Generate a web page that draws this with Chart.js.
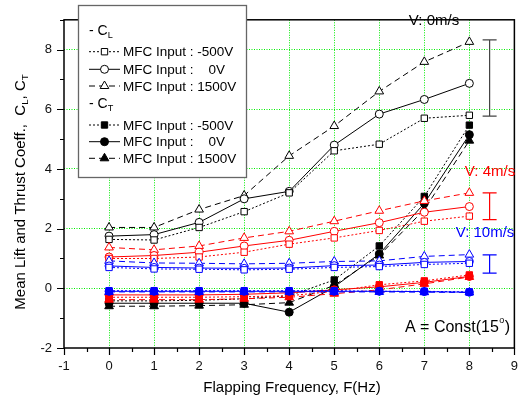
<!DOCTYPE html>
<html>
<head>
<meta charset="utf-8">
<script src="https://cdn.jsdelivr.net/npm/chart.js@4.4.1/dist/chart.umd.min.js"></script>
<style>body{margin:0;background:#fff}</style>
</head>
<body>
<canvas id="chart" width="529" height="404"></canvas>
<script>
var freq = [0, 1, 2, 3, 4, 5, 6, 7, 8];

// lift coefficient C_L (open markers)
var clV0_m500 = [1.64, 1.62, 2.04, 2.57, 3.2, 4.61, 4.83, 5.7, 5.8];
var clV0_0 = [1.75, 1.8, 2.21, 3.0, 3.25, 4.8, 5.84, 6.33, 6.87];
var clV0_1500 = [2.04, 2.04, 2.64, 3.11, 4.44, 5.44, 6.6, 7.59, 8.26];
var clV4_m500 = [1.0, 1.0, 1.05, 1.21, 1.48, 1.69, 1.94, 2.25, 2.42];
var clV4_0 = [1.05, 1.1, 1.21, 1.42, 1.61, 1.91, 2.2, 2.55, 2.74];
var clV4_1500 = [1.37, 1.29, 1.42, 1.69, 1.91, 2.25, 2.6, 2.93, 3.2];
var clV10_m500 = [0.7, 0.65, 0.64, 0.62, 0.64, 0.7, 0.73, 0.8, 0.84];
var clV10_0 = [0.75, 0.7, 0.68, 0.67, 0.68, 0.76, 0.78, 0.87, 0.9];
var clV10_1500 = [0.92, 0.85, 0.84, 0.82, 0.84, 0.9, 0.92, 1.07, 1.13];

// thrust coefficient C_T (filled markers)
var ctV0_m500 = [-0.42, -0.42, -0.4, -0.35, -0.25, 0.28, 1.42, 3.08, 5.47];
var ctV0_0 = [-0.5, -0.5, -0.5, -0.5, -0.8, 0.05, 1.15, 2.85, 5.15];
var ctV0_1500 = [-0.6, -0.6, -0.58, -0.55, -0.48, 0.1, 1.1, 2.64, 4.95];
var ctV4_m500 = [-0.3, -0.3, -0.3, -0.28, -0.25, -0.1, 0.12, 0.25, 0.45];
var ctV4_0 = [-0.22, -0.22, -0.22, -0.2, -0.15, -0.05, 0.05, 0.2, 0.4];
var ctV4_1500 = [-0.38, -0.38, -0.38, -0.35, -0.3, -0.18, -0.05, 0.15, 0.38];
var ctV10_m500 = [-0.08, -0.08, -0.08, -0.08, -0.08, -0.08, -0.1, -0.1, -0.12];
var ctV10_0 = [-0.1, -0.1, -0.1, -0.1, -0.1, -0.1, -0.1, -0.11, -0.13];
var ctV10_1500 = [-0.12, -0.12, -0.12, -0.12, -0.12, -0.12, -0.12, -0.13, -0.14];

var xTicks = [-1, 0, 1, 2, 3, 4, 5, 6, 7, 8, 9];
var yTicks = [-2, 0, 2, 4, 6, 8];

// spread bars and labels at the right, in data units
var speedLabels = ['V: 0m/s', 'V: 4m/s', 'V: 10m/s'];
var speedColors = ['#000', '#ff0000', '#0000ff'];
var spreadTop = [8.33, 3.2, 1.12];
var spreadBottom = [5.77, 2.3, 0.51];

var FONT = '"Liberation Sans", Arial, sans-serif';
var dashes = { rect: [2, 2], circle: [], triangle: [6, 4] };
var sizes = { rect: 4.5, circle: 4, triangle: 5 };

var series = [
  [ctV10_m500, 'rect', speedColors[2], true], [ctV10_0, 'circle', speedColors[2], true], [ctV10_1500, 'triangle', speedColors[2], true],
  [clV10_m500, 'rect', speedColors[2], false], [clV10_0, 'circle', speedColors[2], false], [clV10_1500, 'triangle', speedColors[2], false],
  [ctV4_m500, 'rect', speedColors[1], true], [ctV4_0, 'circle', speedColors[1], true], [ctV4_1500, 'triangle', speedColors[1], true],
  [clV4_m500, 'rect', speedColors[1], false], [clV4_0, 'circle', speedColors[1], false], [clV4_1500, 'triangle', speedColors[1], false],
  [ctV0_m500, 'rect', speedColors[0], true], [ctV0_0, 'circle', speedColors[0], true], [ctV0_1500, 'triangle', speedColors[0], true],
  [clV0_m500, 'rect', speedColors[0], false], [clV0_0, 'circle', speedColors[0], false], [clV0_1500, 'triangle', speedColors[0], false]
];

var datasets = series.map(function (s) {
  return {
    data: s[0].map(function (v, i) { return { x: freq[i], y: v }; }),
    borderColor: s[2],
    borderWidth: 1,
    borderDash: dashes[s[1]],
    pointStyle: s[1],
    pointRadius: sizes[s[1]],
    pointBorderWidth: 1,
    pointBorderColor: s[2],
    pointBackgroundColor: s[3] ? s[2] : '#fff',
    tension: 0,
    fill: false
  };
});

function marker(ctx, style, x, y, filled, color) {
  ctx.save();
  ctx.setLineDash([]);
  ctx.lineWidth = 1;
  ctx.strokeStyle = color;
  ctx.fillStyle = filled ? color : '#fff';
  ctx.beginPath();
  var r = sizes[style];
  if (style === 'rect') {
    var s = r * Math.SQRT1_2;
    ctx.rect(x - s, y - s, 2 * s, 2 * s);
  } else if (style === 'circle') {
    ctx.arc(x, y, r, 0, Math.PI * 2);
  } else {
    ctx.moveTo(x, y - r);
    ctx.lineTo(x + r * 0.866, y + r / 2);
    ctx.lineTo(x - r * 0.866, y + r / 2);
    ctx.closePath();
  }
  ctx.fill();
  ctx.stroke();
  ctx.restore();
}

// draws text pieces [text, isSub] left to right
function richText(ctx, parts, x, y, size, align) {
  var w = 0;
  parts.forEach(function (p) {
    ctx.font = (p[1] ? size * 0.65 : size) + 'px ' + FONT;
    w += ctx.measureText(p[0]).width;
  });
  var cx = align === 'center' ? x - w / 2 : x;
  parts.forEach(function (p) {
    ctx.font = (p[1] ? size * 0.65 : size) + 'px ' + FONT;
    ctx.fillText(p[0], cx, p[1] ? y + size * 0.3 : y);
    cx += ctx.measureText(p[0]).width;
  });
}

var decor = {
  id: 'decor',
  afterDraw: function (chart) {
    var ctx = chart.ctx, a = chart.chartArea;
    var xs = chart.scales.x, ys = chart.scales.y;
    ctx.save();
    ctx.strokeStyle = '#000';
    ctx.lineWidth = 1.5;
    ctx.strokeRect(a.left, a.top, a.right - a.left, a.bottom - a.top);
    ctx.lineWidth = 1.2;
    ctx.beginPath();
    for (var v = -1; v <= 9; v += 0.5) {
      var px = Math.round(xs.getPixelForValue(v)) + 0.5;
      ctx.moveTo(px, a.bottom);
      ctx.lineTo(px, a.bottom + (v % 1 === 0 ? 7 : 4));
    }
    for (var w = -2; w <= 9; w += 1) {
      var py = Math.round(ys.getPixelForValue(w)) + 0.5;
      ctx.moveTo(a.left, py);
      ctx.lineTo(a.left - (w % 2 === 0 ? 7 : 4), py);
    }
    ctx.stroke();

    // spread bars
    var bx = xs.getPixelForValue(8.45);
    speedColors.forEach(function (c, i) {
      var t = ys.getPixelForValue(spreadTop[i]), b = ys.getPixelForValue(spreadBottom[i]);
      ctx.strokeStyle = c === '#000' ? '#444' : c;
      ctx.lineWidth = 1.2;
      ctx.beginPath();
      ctx.moveTo(bx, t); ctx.lineTo(bx, b);
      ctx.moveTo(bx - 7, t); ctx.lineTo(bx + 7, t);
      ctx.moveTo(bx - 7, b); ctx.lineTo(bx + 7, b);
      ctx.stroke();
    });
    ctx.textBaseline = 'middle';
    ctx.textAlign = 'center';
    ctx.font = '15px ' + FONT;
    ctx.fillStyle = speedColors[0];
    ctx.fillText(speedLabels[0], 434, 21);
    ctx.fillStyle = speedColors[1];
    ctx.fillText(speedLabels[1], 490, 172);
    ctx.fillStyle = speedColors[2];
    ctx.fillText(speedLabels[2], 485, 233);

    ctx.fillStyle = '#000';
    ctx.textAlign = 'left';
    ctx.font = '16px ' + FONT;
    ctx.fillText('A = Const(15', 405, 328);
    var aw = ctx.measureText('A = Const(15').width;
    ctx.font = '9px ' + FONT;
    ctx.fillText('o', 405 + aw + 0.5, 321);
    ctx.font = '16px ' + FONT;
    ctx.fillText(')', 405 + aw + 6, 328);

    // legend
    ctx.fillStyle = '#fff';
    ctx.fillRect(78, 5, 168, 172);
    ctx.strokeStyle = '#666';
    ctx.lineWidth = 1.3;
    ctx.strokeRect(78.5, 5.5, 168, 172);
    ctx.fillStyle = '#000';
    richText(ctx, [['- C', false], ['L', true]], 89, 31, 14, 'left');
    richText(ctx, [['- C', false], ['T', true]], 89, 104, 14, 'left');
    var rows = [51.7, 69.3, 86, 125, 141.7, 158.3];
    var styles = ['rect', 'circle', 'triangle'];
    var names = ['MFC Input : -500V', 'MFC Input :    0V', 'MFC Input : 1500V'];
    rows.forEach(function (ry, i) {
      var st = styles[i % 3];
      ctx.strokeStyle = '#000';
      ctx.lineWidth = 1;
      ctx.setLineDash(dashes[st]);
      ctx.beginPath();
      ctx.moveTo(89, ry); ctx.lineTo(120, ry);
      ctx.stroke();
      ctx.setLineDash([]);
      marker(ctx, st, 104.5, ry, i >= 3, '#000');
      ctx.fillStyle = '#000';
      ctx.font = '13.5px ' + FONT;
      ctx.textAlign = 'left';
      ctx.fillText(names[i % 3], 123, ry + 1);
    });

    // axis titles
    ctx.fillStyle = '#000';
    ctx.font = '15px ' + FONT;
    ctx.textAlign = 'center';
    ctx.fillText('Flapping Frequency, F(Hz)', 292, 388);
    ctx.translate(21, 192);
    ctx.rotate(-Math.PI / 2);
    ctx.textAlign = 'left';
    richText(ctx, [['Mean Lift and Thrust Coeff.,  C', false], ['L', true], [', C', false], ['T', true]], 0, 0, 15, 'center');
    ctx.restore();
  }
};

function gridColor(c) {
  var v = c.tick ? c.tick.value : null;
  return (v !== null && v > c.scale.min && v < c.scale.max) ? '#00ee00' : 'rgba(0,0,0,0)';
}

new Chart(document.getElementById('chart').getContext('2d'), {
  type: 'line',
  data: { datasets: datasets },
  options: {
    responsive: false,
    animation: false,
    layout: { padding: { left: 0, top: 6, right: 8, bottom: 0 } },
    plugins: { legend: { display: false }, tooltip: { enabled: false } },
    scales: {
      x: {
        type: 'linear', min: -1, max: 9,
        afterBuildTicks: function (s) { s.ticks = xTicks.map(function (v) { return { value: v }; }); },
        afterFit: function (s) { s.height = 56; },
        ticks: { padding: 11, color: '#111', font: { size: 13, family: FONT } },
        grid: { color: gridColor, drawTicks: false, lineWidth: 1 },
        border: { display: false, dash: [1, 1.5] }
      },
      y: {
        min: -2, max: 9,
        afterBuildTicks: function (s) { s.ticks = yTicks.map(function (v) { return { value: v }; }); },
        afterFit: function (s) { s.width = 64; },
        ticks: { padding: 12, color: '#111', font: { size: 13, family: FONT } },
        grid: { color: gridColor, drawTicks: false, lineWidth: 1 },
        border: { display: false, dash: [1, 1.5] }
      }
    }
  },
  plugins: [decor]
});
</script>
</body>
</html>
